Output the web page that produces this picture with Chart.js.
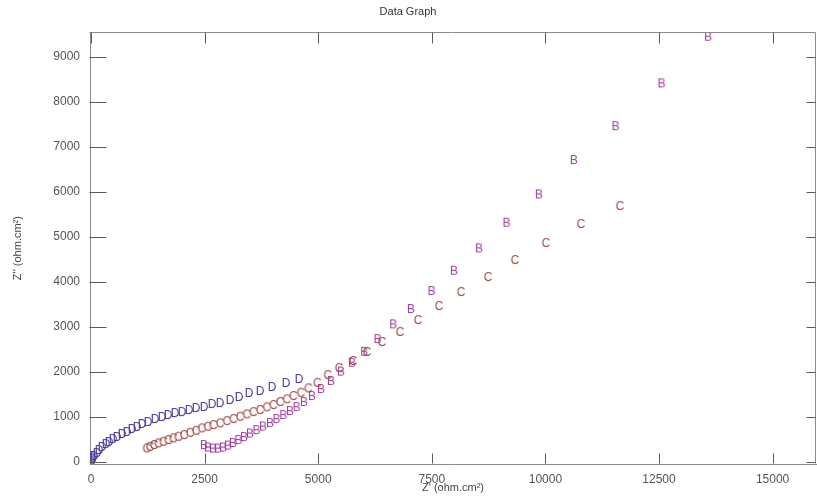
<!DOCTYPE html>
<html lang="en">
<head>
    <meta charset="UTF-8">
    <title>Data Graph</title>
    <style>body{margin:0;background:#fff}</style>
</head>
<body>
    <canvas id="myChart" width="817" height="497"></canvas>

    <script src="https://cdn.jsdelivr.net/npm/chart.js@4.4.0/dist/chart.umd.min.js"></script>
    <script>
        // tick values
        let xTickValues = [0, 2500, 5000, 7500, 10000, 12500, 15000];
        let yTickValues = [0, 1000, 2000, 3000, 4000, 5000, 6000, 7000, 8000, 9000];

        // series D (blue)
        let dZre = [0, 10, 22, 40, 66, 132, 176, 242, 330, 396, 484, 572, 682, 792, 902, 1012, 1122, 1254, 1408, 1562, 1694, 1848, 2002, 2156, 2310, 2486, 2662, 2838, 3058, 3256, 3476, 3718, 3982, 4290, 4576];
        let dZim = [0, 25, 60, 95, 127, 193, 260, 327, 393, 438, 504, 549, 616, 660, 727, 771, 838, 882, 949, 993, 1038, 1082, 1104, 1149, 1193, 1216, 1282, 1304, 1371, 1438, 1527, 1571, 1660, 1749, 1838];

        // series C (red)
        let cZre = [1225, 1298, 1386, 1481, 1591, 1701, 1811, 1921, 2046, 2178, 2310, 2435, 2567, 2691, 2838, 2985, 3131, 3278, 3425, 3571, 3718, 3865, 4011, 4158, 4305, 4451, 4615, 4781, 4979, 5207, 5456, 5764, 6072, 6402, 6798, 7194, 7656, 8140, 8734, 9328, 10010, 10780, 11638];
        let cZim = [298, 333, 371, 409, 444, 482, 520, 556, 593, 644, 689, 742, 778, 815, 853, 904, 949, 1000, 1053, 1104, 1149, 1209, 1260, 1327, 1387, 1460, 1533, 1631, 1755, 1927, 2082, 2238, 2438, 2660, 2882, 3149, 3460, 3771, 4104, 4482, 4860, 5282, 5682];

        // series B (purple)
        let bZre = [2486, 2574, 2684, 2794, 2904, 3014, 3124, 3245, 3366, 3498, 3641, 3784, 3938, 4081, 4231, 4378, 4525, 4686, 4862, 5060, 5280, 5500, 5742, 6013, 6307, 6651, 7040, 7495, 7986, 8536, 9145, 9856, 10626, 11543, 12555, 13581];
        let bZim = [371, 316, 293, 293, 316, 360, 416, 482, 549, 627, 704, 782, 860, 949, 1038, 1127, 1215, 1327, 1460, 1616, 1793, 2004, 2200, 2444, 2726, 3053, 3393, 3793, 4244, 4742, 5311, 5941, 6704, 7459, 8408, 9444];

        function pairs(xs, ys) {
            return xs.map((v, i) => ({x: v, y: ys[i]}));
        }

        // letter markers
        function glyph(letter, color) {
            var c = document.createElement('canvas');
            c.width = 12; c.height = 14;
            var g = c.getContext('2d');
            g.font = '12px "Liberation Sans", Arial, sans-serif';
            g.fillStyle = color;
            g.textAlign = 'center';
            g.textBaseline = 'middle';
            g.fillText(letter, 6, 7.5);
            return c;
        }

        const frameTicks = {
            id: 'frameTicks',
            afterDraw(chart) {
                const {ctx, chartArea: a, scales: {x, y}} = chart;
                const L = Math.round(a.left) - 0.5, R = Math.round(a.right) - 0.5;
                const T = Math.round(a.top) + 0.5, B = Math.round(a.bottom) - 0.5;
                ctx.save();
                ctx.lineWidth = 1;
                ctx.strokeStyle = '#8a8a8a';
                ctx.beginPath();
                ctx.moveTo(L, T); ctx.lineTo(R, T);
                ctx.moveTo(R, T); ctx.lineTo(R, B);
                ctx.stroke();
                ctx.strokeStyle = '#5a5a5a';
                ctx.beginPath();
                xTickValues.forEach(v => {
                    var px = Math.round(x.getPixelForValue(v)) + 0.5;
                    ctx.moveTo(px, B); ctx.lineTo(px, B - 10);
                    ctx.moveTo(px, T); ctx.lineTo(px, T + 11);
                });
                yTickValues.forEach(v => {
                    var py = Math.round(y.getPixelForValue(v)) + 0.5;
                    ctx.moveTo(L, py); ctx.lineTo(L + 17, py);
                    ctx.moveTo(R, py); ctx.lineTo(R - 9, py);
                });
                ctx.stroke();
                ctx.restore();
            }
        };

        var labelFont = {family: '"Liberation Sans", Arial, sans-serif', size: 12};

        var ctx = document.getElementById("myChart").getContext('2d');
        var myChart = new Chart(ctx, {
            type: 'scatter',
            data: {
                datasets: [
                    {label: 'D', data: pairs(dZre, dZim), pointStyle: glyph('D', '#46389a')},
                    {label: 'C', data: pairs(cZre, cZim), pointStyle: glyph('C', '#a04646')},
                    {label: 'B', data: pairs(bZre, bZim), pointStyle: glyph('B', '#9c3f9c')}
                ]
            },
            options: {
                responsive: false,
                animation: false,
                events: [],
                layout: {autoPadding: false, padding: {left: 0, right: 1, top: 0, bottom: 0}},
                plugins: {
                    legend: {display: false},
                    tooltip: {enabled: false},
                    title: {
                        display: true,
                        text: 'Data Graph',
                        color: '#333',
                        font: {family: '"Liberation Sans", Arial, sans-serif', size: 11, weight: 'normal'},
                        padding: {top: 5, bottom: 14}
                    }
                },
                scales: {
                    x: {
                        type: 'linear',
                        min: -22,
                        max: 15955,
                        afterBuildTicks: s => { s.ticks = xTickValues.map(v => ({value: v})); },
                        afterFit: s => { s.height = 33; s.paddingLeft = 0; s.paddingRight = 0; },
                        grid: {display: false, drawTicks: false},
                        border: {display: true, color: '#8a8a8a'},
                        ticks: {color: '#555', font: labelFont, padding: 8, maxRotation: 0, callback: v => String(v)},
                        title: {
                            display: true,
                            text: "Z' (ohm.cm²)",
                            color: '#444',
                            font: {family: '"Liberation Sans", Arial, sans-serif', size: 11},
                            padding: {top: 0, bottom: 2}
                        }
                    },
                    y: {
                        type: 'linear',
                        min: -50,
                        max: 9545,
                        afterBuildTicks: s => { s.ticks = yTickValues.map(v => ({value: v})); },
                        afterFit: s => { s.width = 90; s.paddingTop = 0; s.paddingBottom = 0; },
                        grid: {display: false, drawTicks: false},
                        border: {display: true, color: '#8a8a8a'},
                        ticks: {color: '#555', font: labelFont, padding: 10, callback: v => String(v)},
                        title: {
                            display: true,
                            text: "Z'' (ohm.cm²)",
                            color: '#444',
                            font: {family: '"Liberation Sans", Arial, sans-serif', size: 11},
                            padding: {top: 11, bottom: 0}
                        }
                    }
                }
            },
            plugins: [frameTicks]
        });
    </script>
</body>
</html>
